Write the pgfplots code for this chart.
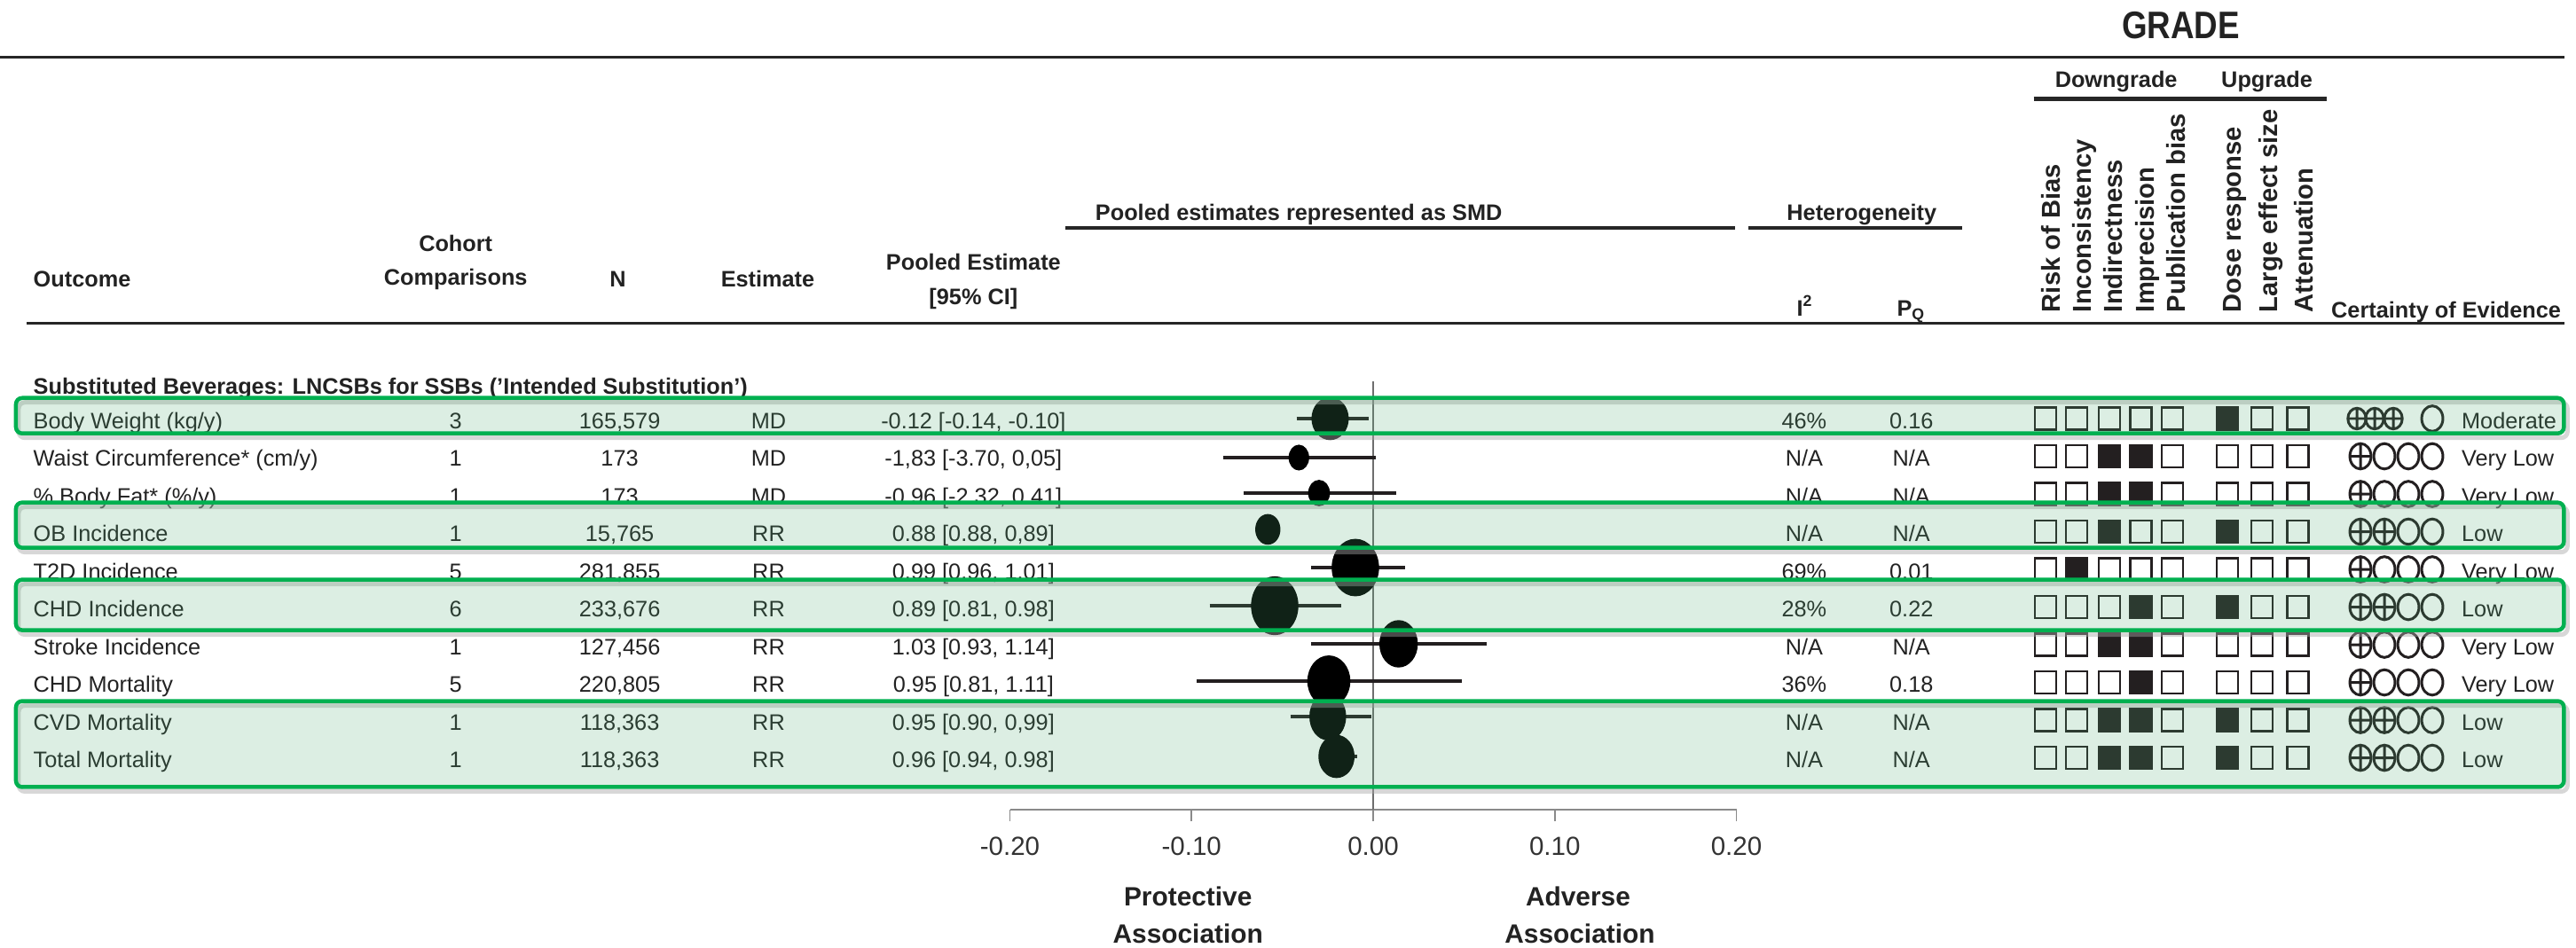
\documentclass[border=0pt]{standalone}
\usepackage{pgfplots}
\pgfplotsset{compat=1.18}
\usepackage{fontspec}
\setmainfont{Liberation Sans}
\newfontfamily\gradefont{Liberation Sans}[FakeStretch=0.85]
\definecolor{txt}{HTML}{222222}
\definecolor{grn}{HTML}{00B050}
\definecolor{boxg}{RGB}{80,170,115}
\definecolor{mk}{HTML}{231F20}
\definecolor{axg}{HTML}{8A8A8A}
\newcommand{\fs}{\fontsize{7.2}{8.6}\selectfont}
\newcommand{\fb}{\fontsize{7.2}{8.6}\selectfont\bfseries}
\newcommand{\datarow}[9]{%
  \pgfmathsetmacro\yy{472+42.5*#1}%
  \node[anchor=west] at (37,\yy) {\fs #2};
  \node at (514,\yy) {\fs #3};
  \node at (699,\yy) {\fs #4};
  \node at (867,\yy) {\fs #5};
  \node at (1098,\yy) {\fs #6};
  \node at (2035,\yy) {\fs #7};
  \node at (2156,\yy) {\fs #8};
  \node[anchor=west] at (2776,\yy) {\fs #9};
}
\begin{document}
\begin{tikzpicture}
\useasboundingbox (0,0) rectangle (29.04cm,-10.68cm);
% ---------- table text ----------
\begin{scope}[x=0.01cm,y=-0.01cm, every node/.style={text=txt, inner sep=0pt, text height=1.55ex, text depth=0.3ex}]
  \node at (2460,32) {\gradefont\fontsize{12.3}{14}\selectfont\bfseries GRADE};
  \draw[line width=0.03cm, black!85] (0,65) -- (2893,65);
  \node at (2387,87) {\fb Downgrade};
  \node at (2557,87) {\fb Upgrade};
  \draw[line width=0.05cm, black!85] (2294,112) -- (2624,112);
  \foreach \xx/\lab in {2312/Risk of Bias, 2347/Inconsistency, 2382/Indirectness, 2418/Imprecision, 2453/Publication bias, 2516/Dose response, 2557/Large effect size, 2597/Attenuation}
    \node[rotate=90, anchor=west] at (\xx,353) {\fontsize{8.3}{9.6}\selectfont\bfseries \lab};
  \node[anchor=west] at (2629,347) {\fb Certainty of Evidence};
  \node at (1465,237) {\fb Pooled estimates represented as SMD};
  \draw[line width=0.04cm, black!85] (1202,257) -- (1957,257);
  \node at (2100,237) {\fb Heterogeneity};
  \draw[line width=0.04cm, black!85] (1972,257) -- (2213,257);
  \node[anchor=west] at (37,312) {\fb Outcome};
  \node at (514,272) {\fb Cohort};
  \node at (514,310) {\fb Comparisons};
  \node at (697,312) {\fb N};
  \node at (866,312) {\fb Estimate};
  \node at (1098,293) {\fb Pooled Estimate};
  \node at (1098,332) {\fb [95\% CI]};
  \node at (2036,345) {\fb I\textsuperscript{2}};
  \node at (2156,345) {\fb P\textsubscript{Q}};
  \draw[line width=0.03cm, black!85] (30,365) -- (2893,365);
  \node[anchor=west] (sub) at (37,433) {\fb Substituted Beverages: LNCSBs for SSBs ('Intended Substitution')};
  \draw[line width=0.025cm, black!85] ([yshift=0.4pt]sub.south west) -- ([yshift=0.4pt]sub.south east);
  \datarow{0}{Body Weight (kg/y)}{3}{165,579}{MD}{-0.12 [-0.14, -0.10]}{46\%}{0.16}{Moderate}
  \datarow{1}{Waist Circumference* (cm/y)}{1}{173}{MD}{-1,83 [-3.70, 0,05]}{N/A}{N/A}{Very Low}
  \datarow{2}{\% Body Fat* (\%/y)}{1}{173}{MD}{-0.96 [-2.32, 0.41]}{N/A}{N/A}{Very Low}
  \datarow{3}{OB Incidence}{1}{15,765}{RR}{0.88 [0.88, 0,89]}{N/A}{N/A}{Low}
  \datarow{4}{T2D Incidence}{5}{281,855}{RR}{0.99 [0.96, 1.01]}{69\%}{0.01}{Very Low}
  \datarow{5}{CHD Incidence}{6}{233,676}{RR}{0.89 [0.81, 0.98]}{28\%}{0.22}{Low}
  \datarow{6}{Stroke Incidence}{1}{127,456}{RR}{1.03 [0.93, 1.14]}{N/A}{N/A}{Very Low}
  \datarow{7}{CHD Mortality}{5}{220,805}{RR}{0.95 [0.81, 1.11]}{36\%}{0.18}{Very Low}
  \datarow{8}{CVD Mortality}{1}{118,363}{RR}{0.95 [0.90, 0,99]}{N/A}{N/A}{Low}
  \datarow{9}{Total Mortality}{1}{118,363}{RR}{0.96 [0.94, 0.98]}{N/A}{N/A}{Low}
  \node at (1340,1010) {\fontsize{8.5}{10}\selectfont\bfseries Protective};
  \node at (1340,1052) {\fontsize{8.5}{10}\selectfont\bfseries Association};
  \node at (1780,1010) {\fontsize{8.5}{10}\selectfont\bfseries Adverse};
  \node at (1782,1052) {\fontsize{8.5}{10}\selectfont\bfseries Association};
\end{scope}
% ---------- forest plot ----------
\begin{axis}[
  at={(11.385cm,-9.13cm)}, anchor=south west,
  scale only axis, width=8.19cm, height=4.83cm,
  xmin=-0.2, xmax=0.2, ymin=-10.376, ymax=0.988,
  axis x line=bottom, axis y line=none,
  x axis line style={-, draw=axg, line width=0.55pt},
  xtick={-0.2,-0.1,0,0.1,0.2},
  tick align=outside, major tick length=0.13cm,
  tick style={draw=axg, line width=0.55pt},
  xticklabel style={font=\fontsize{8.4}{10}\selectfont, text=black!80, yshift=-0.05cm,
    /pgf/number format/.cd, fixed, fixed zerofill, precision=2, assume math mode=true},
  clip=false,
  ci/.style={draw=mk, line width=1pt, mark=none},
  mk/.style={only marks, mark=*, mark options={fill=mk, draw=mk, line width=0pt}},
]
\draw[draw=axg!80!black, line width=0.7pt] (axis cs:0,0.988) -- (axis cs:0,-10.376);
% Body Weight
\addplot[ci] coordinates {(-0.0422,0) (-0.0024,0)};
\addplot[mk, mark size=5.78pt, mark options={yscale=1.16}] coordinates {(-0.0237,0)};
% Waist
\addplot[ci] coordinates {(-0.0827,-1.035) (0.0015,-1.035)};
\addplot[mk, mark size=3.1pt, mark options={yscale=1.27}] coordinates {(-0.0409,-1.035)};
% Body fat
\addplot[ci] coordinates {(-0.0714,-1.976) (0.0127,-1.976)};
\addplot[mk, mark size=3.3pt, mark options={yscale=1.22}] coordinates {(-0.0298,-1.976)};
% OB
\addplot[mk, mark size=3.84pt, mark options={yscale=1.23}] coordinates {(-0.058,-2.94)};
% T2D
\addplot[ci] coordinates {(-0.034,-3.953) (0.0174,-3.953)};
\addplot[mk, mark size=7.4pt, mark options={yscale=1.22}] coordinates {(-0.0098,-3.953)};
% CHD incidence
\addplot[ci] coordinates {(-0.09,-4.965) (-0.0178,-4.965)};
\addplot[mk, mark size=7.4pt, mark options={yscale=1.25}] coordinates {(-0.0542,-4.965)};
% Stroke
\addplot[ci] coordinates {(-0.0342,-5.976) (0.0624,-5.976)};
\addplot[mk, mark size=5.97pt, mark options={yscale=1.24}] coordinates {(0.014,-5.976)};
% CHD mortality
\addplot[ci] coordinates {(-0.097,-6.965) (0.049,-6.965)};
\addplot[mk, mark size=6.7pt, mark options={yscale=1.2}] coordinates {(-0.0244,-6.965)};
% CVD mortality
\addplot[ci] coordinates {(-0.0456,-7.906) (-0.001,-7.906)};
\addplot[mk, mark size=5.7pt, mark options={yscale=1.3}] coordinates {(-0.025,-7.906)};
% Total mortality
\addplot[ci] coordinates {(-0.030,-8.965) (-0.009,-8.965)};
\addplot[mk, mark size=5.6pt, mark options={yscale=1.2}] coordinates {(-0.0202,-8.965)};
\end{axis}
% ---------- GRADE symbols ----------
\begin{axis}[
  at={(22.8cm,-9.13cm)}, anchor=south west,
  scale only axis, width=4.8cm, height=4.83cm,
  xmin=2280, xmax=2760, ymin=-10.376, ymax=0.988,
  axis lines=none, clip=false,
]
% open squares
\addplot[only marks, mark=square, mark size=3.41pt, mark options={draw=mk, line width=0.7pt, yscale=1.04}] coordinates {
(2306,0) (2341,0) (2378,0) (2413.5,0) (2449,0) (2550,0) (2590.5,0)
(2306,-1) (2341,-1) (2449,-1) (2511,-1) (2550,-1) (2590.5,-1)
(2306,-2) (2341,-2) (2449,-2) (2511,-2) (2550,-2) (2590.5,-2)
(2306,-3) (2341,-3) (2413.5,-3) (2449,-3) (2550,-3) (2590.5,-3)
(2306,-4) (2378,-4) (2413.5,-4) (2449,-4) (2511,-4) (2550,-4) (2590.5,-4)
(2306,-5) (2341,-5) (2378,-5) (2449,-5) (2550,-5) (2590.5,-5)
(2306,-6) (2341,-6) (2449,-6) (2511,-6) (2550,-6) (2590.5,-6)
(2306,-7) (2341,-7) (2378,-7) (2449,-7) (2511,-7) (2550,-7) (2590.5,-7)
(2306,-8) (2341,-8) (2449,-8) (2550,-8) (2590.5,-8)
(2306,-9) (2341,-9) (2449,-9) (2550,-9) (2590.5,-9)
};
% filled squares
\addplot[only marks, mark=square*, mark size=3.41pt, mark options={draw=mk, fill=mk, line width=0.7pt, yscale=1.04}] coordinates {
(2511,0)
(2378,-1) (2413.5,-1)
(2378,-2) (2413.5,-2)
(2378,-3) (2511,-3)
(2341,-4)
(2413.5,-5) (2511,-5)
(2378,-6) (2413.5,-6)
(2413.5,-7)
(2378,-8) (2413.5,-8) (2511,-8)
(2378,-9) (2413.5,-9) (2511,-9)
};
% certainty symbols
\addplot[only marks, mark=oplus, mark size=2.9pt, mark options={draw=mk, line width=0.85pt, yscale=1.15}] coordinates {
(2657,0) (2677,0) (2698,0)};
\addplot[only marks, mark=oplus, mark size=3.4pt, mark options={draw=mk, line width=0.85pt, yscale=1.2}] coordinates {
(2661,-1) (2661,-2) (2661,-3) (2688,-3) (2661,-4) (2661,-5) (2688,-5) (2661,-6) (2661,-7) (2661,-8) (2688,-8) (2661,-9) (2688,-9)};
\addplot[only marks, mark=o, mark size=3.4pt, mark options={draw=mk, line width=0.85pt, yscale=1.2}] coordinates {
(2742,0)
(2688,-1) (2715,-1) (2742,-1)
(2688,-2) (2715,-2) (2742,-2)
(2715,-3) (2742,-3)
(2688,-4) (2715,-4) (2742,-4)
(2715,-5) (2742,-5)
(2688,-6) (2715,-6) (2742,-6)
(2688,-7) (2715,-7) (2742,-7)
(2715,-8) (2742,-8)
(2715,-9) (2742,-9)};
\end{axis}
% ---------- highlighted boxes ----------
\begin{scope}[x=0.01cm,y=-0.01cm]
  \foreach \a/\b in {449/489, 567/618, 654/711, 791/888} {
    \draw[black!35, opacity=0.45, line width=0.05cm, rounded corners=2pt] (21,\a+5) rectangle (2896,\b+5);
    \fill[boxg, fill opacity=0.2, rounded corners=2pt] (18,\a) rectangle (2892,\b);
    \draw[grn, line width=0.045cm, rounded corners=2pt] (18,\a) rectangle (2892,\b);
  }
\end{scope}
\end{tikzpicture}
\end{document}
